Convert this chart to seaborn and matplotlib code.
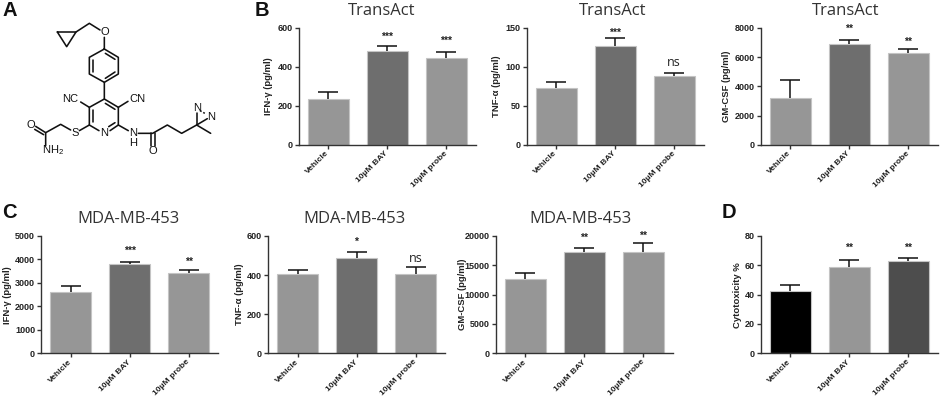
import pandas as pd
import matplotlib
matplotlib.use('Agg')
import matplotlib.pyplot as plt
import seaborn as sns

sns.set_style('ticks')
plt.rcParams['font.family'] = ['Liberation Sans', 'DejaVu Sans']
plt.rcParams['mathtext.default'] = 'regular'

W, H = 941, 398
groups = ['Vehicle', '10\u00b5M BAY', '10\u00b5M probe']
grey, dark, black, charcoal = '#969696', '#6e6e6e', '#000000', '#4d4d4d'

# bar heights / top of the error bar
b1_vals, b1_tops = [237, 483, 446], [269, 506, 475]
b2_vals, b2_tops = [73, 127, 88], [80, 137.5, 92]
b3_vals, b3_tops = [3220, 6925, 6310], [4435, 7175, 6540]
c1_vals, c1_tops = [2630, 3805, 3440], [2885, 3890, 3565]
c2_vals, c2_tops = [406, 486, 406], [426, 516, 441]
c3_vals, c3_tops = [12670, 17270, 17270], [13690, 17950, 18750]
d_vals, d_tops = [42.3, 58.6, 62.7], [46.4, 63.9, 64.8]

b1_sig, b1_sig_y = ['', '***', '***'], [0, 559, 538]
b2_sig, b2_sig_y = ['', '***', 'ns'], [0, 145, 106]
b3_sig, b3_sig_y = ['', '**', '**'], [0, 8000, 7100]
c1_sig, c1_sig_y = ['', '***', '**'], [0, 4400, 3920]
c2_sig, c2_sig_y = ['', '*', 'ns'], [0, 573, 484]
c3_sig, c3_sig_y = ['', '**', '**'], [0, 19830, 20280]
d_sig, d_sig_y = ['', '**', '**'], [0, 72.5, 72.5]

# title, title x, ylabel, ymax, yticks, values, tops, sig, sig y, colours, x0, y top, y bottom, ylabel offset
panels = [
    ('TransAct', 0.468, 'IFN-\u03b3 (pg/ml)', 600, [0, 200, 400, 600], b1_vals, b1_tops, b1_sig, b1_sig_y, [grey, dark, grey], 298.7, 28, 144.7, 25.5),
    ('TransAct', 0.488, 'TNF-\u03b1 (pg/ml)', 150, [0, 50, 100, 150], b2_vals, b2_tops, b2_sig, b2_sig_y, [grey, dark, grey], 526.7, 28, 144.7, 25.5),
    ('TransAct', 0.479, 'GM-CSF (pg/ml)', 8000, [0, 2000, 4000, 6000, 8000], b3_vals, b3_tops, b3_sig, b3_sig_y, [grey, dark, grey], 760.7, 28, 144.7, 29.5),
    ('MDA-MB-453', 0.495, 'IFN-\u03b3 (pg/ml)', 5000, [0, 1000, 2000, 3000, 4000, 5000], c1_vals, c1_tops, c1_sig, c1_sig_y, [grey, dark, grey], 41.3, 236, 353.3, 29.5),
    ('MDA-MB-453', 0.49, 'TNF-\u03b1 (pg/ml)', 600, [0, 200, 400, 600], c2_vals, c2_tops, c2_sig, c2_sig_y, [grey, dark, grey], 268, 236, 353.3, 24.5),
    ('MDA-MB-453', 0.479, 'GM-CSF (pg/ml)', 20000, [0, 5000, 10000, 15000, 20000], c3_vals, c3_tops, c3_sig, c3_sig_y, [grey, dark, grey], 496, 236, 353.3, 29),
    ('', 0.5, 'Cytotoxicity %', 80, [0, 20, 40, 60, 80], d_vals, d_tops, d_sig, d_sig_y, [black, grey, charcoal], 760.7, 236, 353.3, 18.5),
]

fig = plt.figure(figsize=(W / 100, H / 100), dpi=100)

for title, title_x, ylab, ymax, yticks, vals, tops, sig, sig_y, cols, x0, ytop, ybot, lab_off in panels:
    ax = fig.add_axes([x0 / W, 1 - ybot / H, 177 / W, (ybot - ytop) / H])
    df = pd.DataFrame({'group': groups, 'value': vals})
    sns.barplot(data=df, x='group', y='value', hue='group', palette=cols, legend=False,
                width=0.7, saturation=1, edgecolor='#c4c4c4', linewidth=0.8, ax=ax)
    up = [t - v for t, v in zip(tops, vals)]
    _, caps, _ = ax.errorbar(range(3), vals, yerr=[[0, 0, 0], up], fmt='none', ecolor='#111111',
                             elinewidth=1.1, capsize=7, capthick=1.1, zorder=5)
    caps[0].set_visible(False)
    ax.set_xlim(-0.5, 2.5)
    ax.set_ylim(0, ymax)
    ax.set_yticks(yticks)
    ax.set_xlabel('')
    ax.set_ylabel(ylab, fontsize=6.8, fontweight='bold', color='#222222')
    ax.yaxis.set_label_coords(-lab_off / 177, 0.5)
    sns.despine(ax=ax)
    for s in ['left', 'bottom']:
        ax.spines[s].set_linewidth(1.0)
        ax.spines[s].set_color('#333333')
    ax.tick_params(length=3, width=1.0, color='#333333', pad=1.5, labelsize=6.5, labelcolor='#222222')
    ax.tick_params(axis='x', pad=2.5, labelsize=6.1)
    for lb in ax.get_yticklabels():
        lb.set_fontweight('bold')
    for lb in ax.get_xticklabels():
        lb.set_rotation(45)
        lb.set_ha('right')
        lb.set_va('center')
        lb.set_rotation_mode('anchor')
        lb.set_fontweight('bold')
    for i in range(3):
        if sig[i] == 'ns':
            ax.text(i, sig_y[i], 'ns', ha='center', va='center', fontsize=9, family='Open Sans', color='#222222')
        elif sig[i]:
            ax.text(i, sig_y[i], sig[i], ha='center', va='center_baseline', fontsize=7.5, fontweight='bold', color='#222222')
    if title:
        ax.text(title_x, 1.145, title, transform=ax.transAxes, ha='center', va='center',
                fontsize=12, family='Open Sans', color='#333333')

# overlay in zoom-crop units (3x pixels) for the structure and panel letters
ov = fig.add_axes([0, 0, 1, 1], zorder=-1)
ov.set_xlim(0, W * 3)
ov.set_ylim(H * 3, 0)
ov.axis('off')

bonds = [
    [(172, 96), (228, 96), (200, 140), (172, 96)],
    [(228, 96), (268, 70), (300, 90)],
    [(313, 112), (313, 147), (355, 172), (355, 222), (313, 247), (268, 222), (268, 172), (313, 147)],
    [(280, 180), (280, 215)], [(316, 160), (345, 178)], [(316, 235), (345, 216)],
    [(313, 247), (313, 297), (355, 322), (355, 375), (330, 392)],
    [(297, 392), (268, 375), (268, 322), (313, 297)],
    [(280, 330), (280, 367)], [(316, 310), (345, 328)], [(345, 368), (326, 380)],
    [(268, 322), (242, 306)], [(355, 322), (384, 304)],
    [(268, 375), (238, 392)], [(212, 390), (182, 373), (137, 398), (137, 437)],
    [(137, 398), (107, 379)], [(131, 404), (104, 388)],
    [(355, 375), (385, 392)], [(415, 400), (458, 400), (502, 375), (545, 400), (590, 375)],
    [(452, 400), (452, 437)], [(464, 400), (464, 437)],
    [(590, 375), (590, 340)], [(590, 375), (622, 356)], [(590, 375), (632, 400)],
]
for b in bonds:
    ov.plot([p[0] for p in b], [p[1] for p in b], color='#111111', lw=1.15, solid_capstyle='round')
ov.plot([600, 618], [332, 342], color='#111111', lw=1.1, ls=(0, (1.2, 1.2)))

atoms = [('O', 313, 96), ('NC', 212, 297), ('CN', 413, 297), ('N', 313, 400), ('S', 225, 398), ('O', 92, 375),
         ('NH$_2$', 158, 451), ('N', 400, 398), ('H', 400, 428), ('O', 458, 452), ('N', 590, 325), ('N', 634, 351)]
for label, x, y in atoms:
    ov.text(x, y, label, ha='center', va='center', fontsize=8, color='#111111')

letters = [('A', 30, 33), ('B', 785, 33), ('C', 27, 636), ('D', 2187, 636)]
for label, x, y in letters:
    ov.text(x, y, label, ha='center', va='center', fontsize=14.5, fontweight='bold', color='#111111')

fig.savefig('out.png', dpi=100)
